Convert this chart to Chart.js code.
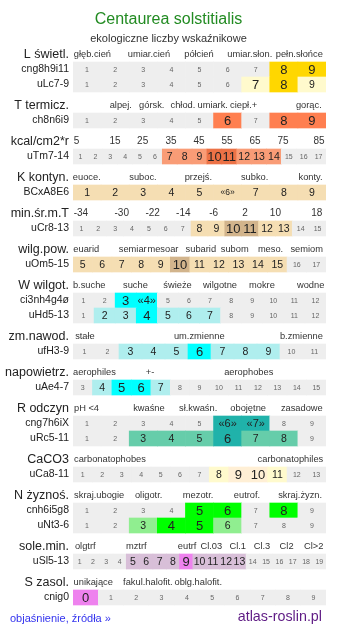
<!DOCTYPE html>
<html>
<head>
<meta charset="utf-8">
<script src="https://cdn.jsdelivr.net/npm/chart.js@4/dist/chart.umd.min.js"></script>
<style>
  body { margin: 0; background: #fff; font-family: "Liberation Sans", Arial, sans-serif; }
  #wrap { position: relative; width: 337px; height: 634px; }
  #wrap canvas { position: absolute; left: 0; top: 0; }
  .txt { position: absolute; white-space: nowrap; }
  #title { left: 0; width: 337px; top: 9px; line-height: 20px; text-align: center; font-size: 16px; color: #228b22; }
  #sub { left: 0; width: 337px; top: 31px; line-height: 14px; text-align: center; font-size: 11px; color: #333; }
  #info { left: 10px; top: 611px; line-height: 14px; font-size: 11px; color: #3333ee; text-decoration: none; }
  #site { right: 15px; top: 608px; line-height: 17px; font-size: 14.3px; color: #5e1a84; }
</style>
</head>
<body>
<div id="wrap">
  <canvas id="chart-indicators" width="337" height="634"></canvas>
  <div class="txt" id="title">Centaurea solstitialis</div>
  <div class="txt" id="sub">ekologiczne liczby wskaźnikowe</div>
  <a class="txt" id="info" href="#">objaśnienie, źródła »</a>
  <div class="txt" id="site">atlas-roslin.pl</div>
</div>
<script>
const sectionNames = ['L świetl.', 'T termicz.', 'kcal/cm2*r', 'K kontyn.', 'min.śr.m.T', 'wilg.pow.',
  'W wilgot.', 'zm.nawod.', 'napowietrz.', 'R odczyn', 'CaCO3', 'N żyznoś.', 'sole.min.', 'S zasol.'];

// scale captions above each group and where they sit, in cells of that group
const scaleNames = [
  ['głęb.cień', 'umiar.cień', 'półcień', 'umiar.słon.', 'pełn.słońce'],
  ['alpej.', 'górsk.', 'chłod.', 'umiark.', 'ciepł.+', 'gorąc.'],
  ['5', '15', '25', '35', '45', '55', '65', '75', '85'],
  ['euoce.', 'suboc.', 'przejś.', 'subko.', 'konty.'],
  ['-34', '-30', '-22', '-14', '-6', '2', '10', '18'],
  ['euarid', 'semiar', 'mesoar', 'subarid', 'subom', 'meso.', 'semiom'],
  ['b.suche', 'suche', 'świeże', 'wilgotne', 'mokre', 'wodne'],
  ['stałe', 'um.zmienne', 'b.zmienne'],
  ['aerophiles', '+-', 'aerophobes'],
  ['pH <4', 'kwaśne', 'sł.kwaśn.', 'obojętne', 'zasadowe'],
  ['carbonatophobes', 'carbonatophiles'],
  ['skraj.ubogie', 'oligotr.', 'mezotr.', 'eutrof.', 'skraj.żyzn.'],
  ['olgtrf', 'mztrf', 'eutrf', 'Cl.03', 'Cl.1', 'Cl.3', 'Cl2', 'Cl>2'],
  ['unikające', 'fakul.halofit.', 'oblg.halofit.']
];
const scaleAt = [
  [0.69, 2.70, 4.48, 6.29, 8.05],
  [1.70, 2.80, 3.91, 4.97, 6.07, 8.39],
  [0.24, 2.82, 4.68, 6.59, 8.47, 10.35, 12.23, 14.11, 16.53],
  [0.49, 2.49, 4.46, 6.46, 8.45],
  [0.47, 2.89, 4.72, 6.54, 8.34, 10.2, 12.0, 14.45],
  [0.68, 3.07, 4.62, 6.57, 8.31, 10.15, 12.01],
  [0.77, 2.96, 4.96, 6.97, 8.96, 11.27],
  [0.52, 5.49, 9.93],
  [1.10, 3.96, 9.03],
  [0.48, 2.70, 4.45, 6.23, 8.14],
  [1.90, 11.17],
  [0.93, 2.69, 4.45, 6.19, 8.08],
  [0.92, 4.75, 8.57, 10.39, 12.37, 14.19, 16.04, 18.07],
  [0.80, 2.96, 4.95]
];

const rowSection = [0, 0, 1, 2, 3, 4, 5, 6, 6, 7, 8, 9, 9, 10, 11, 11, 12, 13];
const rowLabels = ['cng8h9i11', 'uLc7-9', 'ch8n6i9', 'uTm7-14', 'BCxA8E6', 'uCr8-13', 'uOm5-15',
  'ci3nh4g4ø', 'uHd5-13', 'ufH3-9', 'uAe4-7', 'cng7h6iX', 'uRc5-11', 'uCa8-11',
  'cnh6i5g8', 'uNt3-6', 'uSl5-13', 'cnig0'];
const rowFirst = [1, 1, 1, 1, 1, 1, 5, 1, 1, 1, 3, 1, 1, 1, 1, 1, 1, 0];
// one char per cell: 0 = out of range, 1 = range, 2 = optimum, 3 = range, large digit
const rowLevels = ['000000022', '000000321', '000002022', '00000011122111000', '111111111',
  '000000011221100', '1111121111100', '002200000000', '011211100000', '00111211100',
  '0122100000000', '000002200', '001112110', '0000000122100', '000022020', '001221000',
  '0000111121111000000', '2000000000'];
// values printed as «n»
const rowQuoted = [[], [], [], [], [6], [], [], [4], [], [], [], [6, 7], [], [], [], [], [], []];

const lightColors = ['#fffacd', '#ffa07a', '#f99c76', '#f5deb3', '#f5deb3', '#f5deb3', '#afeeee',
  '#afeeee', '#afeeee', '#66cdaa', '#fffacd', '#90ee90', '#d8bfd8', '#d8bfd8'];
const strongColors = ['#ffd700', '#ff7f50', '#ec7246', '#d2b48c', '#d2b48c', '#d2b48c', '#00ffff',
  '#00ffff', '#00ffff', '#20b2aa', '#ffefd5', '#00ff00', '#ee82ee', '#ee82ee'];

const FONT = '"Liberation Sans", Arial, sans-serif';
const ROW_PX = 15;

// vertical layout in row units: caption line, its rows, then a gap
const headerY = [];
const rowY = [];
let pos = 0;
sectionNames.forEach((_, s) => {
  headerY.push(pos);
  rowSection.forEach((rs, r) => {
    if (rs === s) {
      pos = Math.round((pos + 1) * 10) / 10;
      rowY[r] = pos;
    }
  });
  pos = Math.round((pos + 1.4) * 10) / 10;
});

const yTicks = [];
sectionNames.forEach((name, s) => yTicks.push({ value: headerY[s], text: name, head: true }));
rowLabels.forEach((name, r) => yTicks.push({ value: rowY[r], text: name, head: false }));
yTicks.sort((a, b) => a.value - b.value);

const cells = [];
const cellColors = [];
rowLabels.forEach((_, r) => {
  const lv = rowLevels[r];
  const n = lv.length;
  const s = rowSection[r];
  for (let i = 0; i < n; i++) {
    cells.push({ x: [i / n, (i + 1) / n], y: rowY[r] });
    cellColors.push(lv[i] === '0' ? '#eeeeee' : lv[i] === '2' ? strongColors[s] : lightColors[s]);
  }
});

const cellText = {
  id: 'cellText',
  afterDatasetsDraw(chart) {
    const { ctx, scales: { x, y } } = chart;
    ctx.save();
    ctx.textAlign = 'center';
    ctx.textBaseline = 'middle';

    rowLabels.forEach((_, r) => {
      const lv = rowLevels[r];
      const n = lv.length;
      const cy = y.getPixelForValue(rowY[r]) + 0.5;
      for (let i = 0; i < n; i++) {
        const v = rowFirst[r] + i;
        let size = lv[i] === '0' ? 7 : lv[i] === '1' ? 10.5 : 13;
        let txt = String(v);
        if (rowQuoted[r].includes(v)) {
          txt = '«' + v + '»';
          size -= 2;
        }
        ctx.font = size + 'px ' + FONT;
        ctx.fillStyle = lv[i] === '0' ? '#666' : '#222';
        ctx.fillText(txt, x.getPixelForValue((i + 0.5) / n), cy);
      }
    });

    ctx.fillStyle = '#333';
    sectionNames.forEach((_, s) => {
      const n = rowLevels[rowSection.indexOf(s)].length;
      const cy = y.getPixelForValue(headerY[s]);
      scaleNames[s].forEach((t, k) => {
        ctx.font = (/^-?\d+$/.test(t) ? 10 : 9.3) + 'px ' + FONT;
        ctx.fillText(t, x.getPixelForValue(scaleAt[s][k] / n), cy);
      });
    });
    ctx.restore();
  }
};

new Chart(document.getElementById('chart-indicators'), {
  type: 'bar',
  data: {
    datasets: [{
      data: cells,
      backgroundColor: cellColors,
      borderWidth: 0,
      barPercentage: 1,
      categoryPercentage: 1,
      grouped: false
    }]
  },
  options: {
    indexAxis: 'y',
    responsive: false,
    animation: false,
    events: [],
    layout: { padding: { left: 0, right: 11, top: 0, bottom: 0 } },
    plugins: {
      legend: { display: false },
      tooltip: { enabled: false }
    },
    scales: {
      x: { type: 'linear', min: 0, max: 1, display: false },
      y: {
        type: 'linear',
        reverse: true,
        offset: false,
        min: -54.5 / ROW_PX,
        max: (634 - 54.5) / ROW_PX,
        grid: { display: false, drawTicks: false },
        border: { display: false },
        afterBuildTicks: (scale) => {
          scale.ticks = yTicks.map(t => ({ value: t.value }));
        },
        afterFit: (scale) => {
          scale.width = 73;
          scale.paddingTop = 0;
          scale.paddingBottom = 0;
        },
        ticks: {
          autoSkip: false,
          padding: 4,
          color: '#222',
          callback: (v, i) => yTicks[i].text,
          font: (c) => ({ family: FONT, size: (yTicks[c.index] && yTicks[c.index].head) ? 12.5 : 10.5 })
        }
      }
    }
  },
  plugins: [cellText]
});
</script>
</body>
</html>
